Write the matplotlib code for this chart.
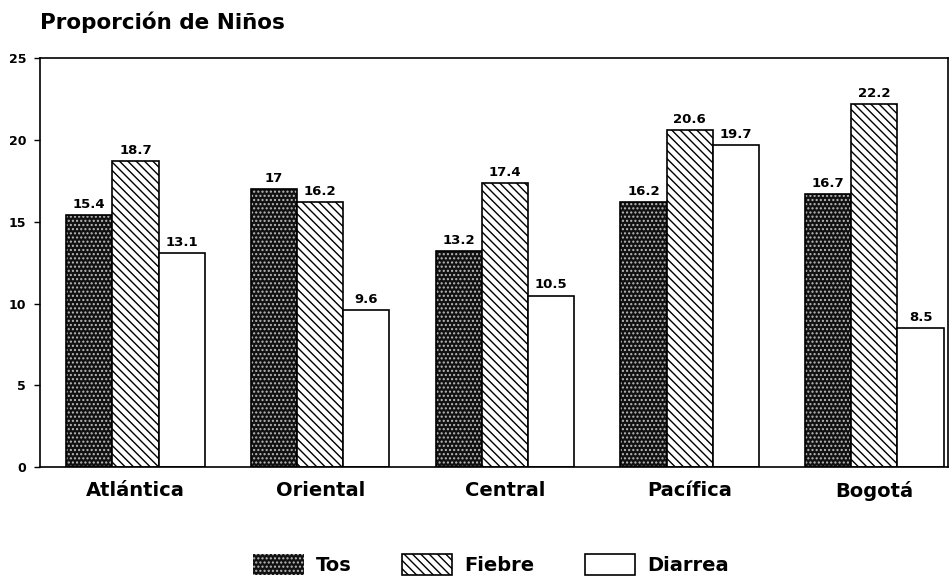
import matplotlib
matplotlib.use("Agg")
import matplotlib.pyplot as plt  # noqa: E402
import numpy as np  # noqa: E402

regiones = ["Atlántica", "Oriental", "Central", "Pacífica", "Bogotá"]
tos = [15.4, 17, 13.2, 16.2, 16.7]
fiebre = [18.7, 16.2, 17.4, 20.6, 22.2]
diarrea = [13.1, 9.6, 10.5, 19.7, 8.5]
yticks = [0, 5, 10, 15, 20, 25]

plt.rcParams["font.family"] = ["DejaVu Sans"]
plt.rcParams["font.weight"] = "bold"
plt.rcParams["hatch.linewidth"] = 1.0

fig = plt.figure(figsize=(9.53, 5.84), dpi=100)
ax = fig.add_axes([0.042, 0.20, 0.953, 0.70])

x = np.arange(len(regiones))
w = 0.25

# Tos: fondo negro con puntos blancos
b_tos = ax.bar(x - w, tos, w, color="#111111", edgecolor="#bbbbbb", hatch="....", linewidth=0, label="Tos")
ax.bar(x - w, tos, w, fill=False, edgecolor="black", linewidth=1.2)
b_fie = ax.bar(x, fiebre, w, color="white", edgecolor="black", hatch="\\\\\\\\", linewidth=1.2, label="Fiebre")
b_dia = ax.bar(x + w, diarrea, w, color="white", edgecolor="black", linewidth=1.2, label="Diarrea")

for bars, vals in [(b_tos, tos), (b_fie, fiebre), (b_dia, diarrea)]:
    ax.bar_label(bars, labels=[f"{v:g}" for v in vals], padding=3, fontsize=9.5, fontweight="bold")

ax.set_xlim(-0.517, 4.40)
ax.set_ylim(0, 25)
ax.set_yticks(yticks)
ax.set_yticklabels([str(t) for t in yticks], fontsize=9, fontweight="bold")
ax.set_xticks(x)
ax.set_xticklabels(regiones, fontsize=14, fontweight="bold")
ax.tick_params(axis="x", length=0, pad=10)
ax.tick_params(axis="y", length=4, width=1, pad=6)
for s in ax.spines.values():
    s.set_linewidth(1.2)

fig.text(0.042, 0.962, "Proporción de Niños", fontsize=15.5, fontweight="bold", ha="left", va="center")

fig.legend(handles=[b_tos, b_fie, b_dia], loc="lower center", bbox_to_anchor=(0.515, -0.015),
           ncol=3, frameon=False, fontsize=14, handlelength=2.6, handleheight=1.3,
           columnspacing=2.6, handletextpad=0.6)

plt.savefig("out.png", dpi=100, facecolor="white")
plt.close(fig)
